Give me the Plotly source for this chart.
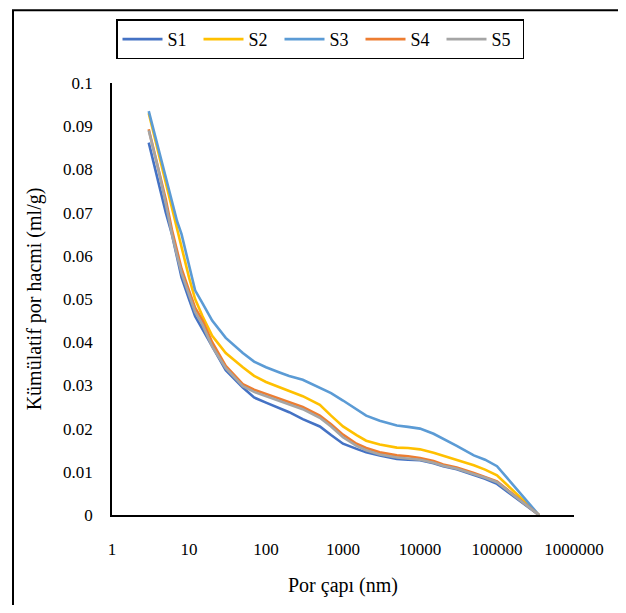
import plotly.graph_objects as go

pore_nm = [3, 4, 5, 6, 7, 8, 10, 12, 15, 20, 30, 50, 70, 100, 150, 200, 300, 500, 700,
           1000, 1500, 2000, 3000, 5000, 7000, 10000, 15000, 20000, 30000, 50000, 70000,
           100000, 350000]

S1 = [0.0862, 0.077, 0.070, 0.065, 0.060, 0.055, 0.050, 0.046, 0.043, 0.039, 0.0335, 0.0295,
      0.0272, 0.0260, 0.0247, 0.0238, 0.0222, 0.0205, 0.0185, 0.0165, 0.0153, 0.0145, 0.0138,
      0.0130, 0.0128, 0.0127, 0.0120, 0.0113, 0.0106, 0.0093, 0.0084, 0.0072, 0.0]
S2 = [0.0930, 0.084, 0.077, 0.071, 0.066, 0.062, 0.055, 0.050, 0.046, 0.0415, 0.0375, 0.0342,
      0.0322, 0.0308, 0.0295, 0.0287, 0.0275, 0.0255, 0.0230, 0.0205, 0.0185, 0.0172, 0.0163,
      0.0156, 0.0155, 0.0152, 0.0144, 0.0137, 0.0128, 0.0115, 0.0105, 0.0092, 0.0]
S3 = [0.0935, 0.085, 0.078, 0.073, 0.068, 0.065, 0.058, 0.052, 0.049, 0.045, 0.041, 0.0375,
      0.0355, 0.0342, 0.0330, 0.0322, 0.0313, 0.0295, 0.0282, 0.0265, 0.0245, 0.0230, 0.0218,
      0.0207, 0.0204, 0.0200, 0.0188, 0.0177, 0.0160, 0.0138, 0.0128, 0.0113, 0.0]
S4 = [0.0893, 0.080, 0.073, 0.066, 0.061, 0.057, 0.052, 0.048, 0.045, 0.040, 0.0345, 0.0303,
      0.0290, 0.0280, 0.0268, 0.0260, 0.0250, 0.0230, 0.0210, 0.0186, 0.0165, 0.0155, 0.0145,
      0.0138, 0.0136, 0.0132, 0.0125, 0.0117, 0.0110, 0.0097, 0.0088, 0.0078, 0.0]
S5 = [0.0890, 0.080, 0.072, 0.065, 0.060, 0.056, 0.051, 0.047, 0.044, 0.039, 0.0340, 0.0298,
      0.0285, 0.0275, 0.0264, 0.0256, 0.0245, 0.0225, 0.0205, 0.0180, 0.0160, 0.0150, 0.0140,
      0.0133, 0.0131, 0.0128, 0.0121, 0.0114, 0.0107, 0.0095, 0.0086, 0.0076, 0.0]

series_names = ["S1", "S2", "S3", "S4", "S5"]
series_vals = [S1, S2, S3, S4, S5]
colors = ["#4472C4", "#FFC000", "#5B9BD5", "#ED7D31", "#A5A5A5"]

x_tickvals = [1, 10, 100, 1000, 10000, 100000, 1000000]
x_ticktext = ["1", "10", "100", "1000", "10000", "100000", "1000000"]
y_tickvals = [0, 0.01, 0.02, 0.03, 0.04, 0.05, 0.06, 0.07, 0.08, 0.09, 0.1]
y_ticktext = ["0", "0.01", "0.02", "0.03", "0.04", "0.05", "0.06", "0.07", "0.08", "0.09", "0.1"]

FONT = "Times New Roman, Liberation Serif, serif"

fig = go.Figure()
for name, vals, col in zip(series_names, series_vals, colors):
    fig.add_trace(go.Scatter(x=pore_nm, y=vals, mode="lines", name=name,
                             line=dict(color=col, width=2.6)))

# page has an 8px body margin; figure coordinates = page coordinates - 8
W, H = 610, 597
L, T = 104, 74
R, B = W - 566, H - 509
pw, ph = W - L - R, H - T - B

def px(xp):
    return (xp - 8 - L) / pw

def py(yp):
    return (H - B - (yp - 8)) / ph

top_y = (H - B) / ph - 0.002

fig.update_layout(
    width=W, height=H,
    margin=dict(l=L, r=R, t=T, b=B, pad=0),
    paper_bgcolor="white", plot_bgcolor="white",
    font=dict(family=FONT, size=14, color="#000000"),
    showlegend=True,
    legend=dict(orientation="h", x=px(320), y=py(18), xanchor="center", yanchor="top",
                bordercolor="#000000", borderwidth=1.5, bgcolor="white",
                font=dict(family=FONT, size=18, color="#000000"),
                entrywidth=26, entrywidthmode="pixels", itemwidth=40,
                tracegroupgap=0),
    xaxis=dict(type="log", range=[0, 6], tickvals=x_tickvals, ticktext=x_ticktext,
               showgrid=False, zeroline=False, showline=True, linecolor="#000000",
               linewidth=1.5, ticks="", ticklabelstandoff=18,
               tickfont=dict(family=FONT, size=17, color="#000000"),
               title=dict(text="Por çapı (nm)", font=dict(family=FONT, size=20, color="#000000"),
                          standoff=20)),
    yaxis=dict(range=[0, 0.1], tickvals=y_tickvals, ticktext=y_ticktext,
               showgrid=False, zeroline=False, showline=True, linecolor="#000000",
               linewidth=1.5, ticks="", ticklabelstandoff=14,
               tickfont=dict(family=FONT, size=17, color="#000000"),
               title=dict(text="Kümülatif por hacmi (ml/g)",
                          font=dict(family=FONT, size=20, color="#000000"), standoff=16)),
    shapes=[
        dict(type="line", xref="paper", yref="paper",
             x0=px(13), x1=px(13), y0=py(640), y1=top_y,
             line=dict(color="#000000", width=2), layer="below"),
        dict(type="line", xref="paper", yref="paper",
             x0=px(12), x1=px(700), y0=top_y, y1=top_y,
             line=dict(color="#000000", width=2), layer="below"),
    ],
)

fig.write_html("out.html")
